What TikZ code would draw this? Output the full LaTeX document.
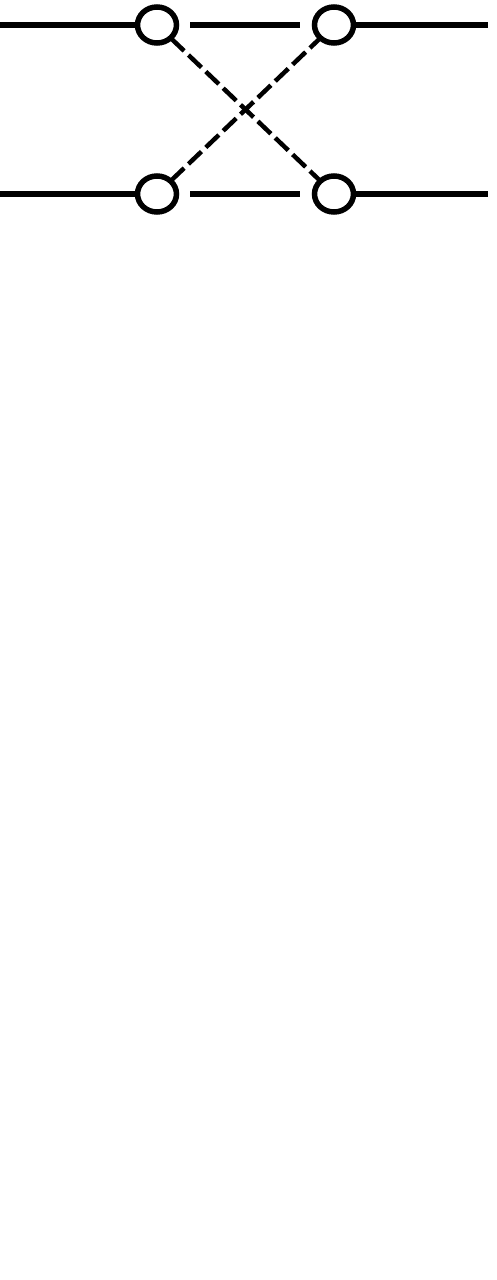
\documentclass[tikz,border=0pt]{standalone}
\usetikzlibrary{shapes.geometric}
\tikzset{
  port/.style={draw, ellipse, line width=5.5pt, minimum width=39pt, minimum height=36pt, inner sep=0pt, fill=white},
  wire/.style={line width=6.5pt},
  cross/.style={line width=4.5pt, dash pattern=on 18pt off 6pt}
}
\begin{document}
\begin{tikzpicture}[x=1pt, y=-1pt]
      \useasboundingbox (0,0) rectangle (496,1280);
      \coordinate (inA) at (0,25);
      \coordinate (inB) at (0,194);
      \coordinate (outA) at (488,25);
      \coordinate (outB) at (488,194);
      \draw
        (157,25) node[port] (a1){}
        (334,25) node[port] (a2){}
        (157,194) node[port] (b1){}
        (334,194) node[port] (b2){};
      \begin{scope}[wire]
        \draw (inA) to (a1);
        \draw (inB) to (b1);
        \draw (a2) to (outA);
        \draw (b2) to (outB);
        \draw[shorten <=11pt, shorten >=12pt] (a1) to (a2);
        \draw[shorten <=11pt, shorten >=12pt] (b1) to (b2);
      \end{scope}
      \begin{scope}[cross, shorten <=-2pt, shorten >=-2pt]
        \draw (a1) to (b2);
        \draw (b1) to (a2);
      \end{scope}
    \end{tikzpicture}
\end{document}
